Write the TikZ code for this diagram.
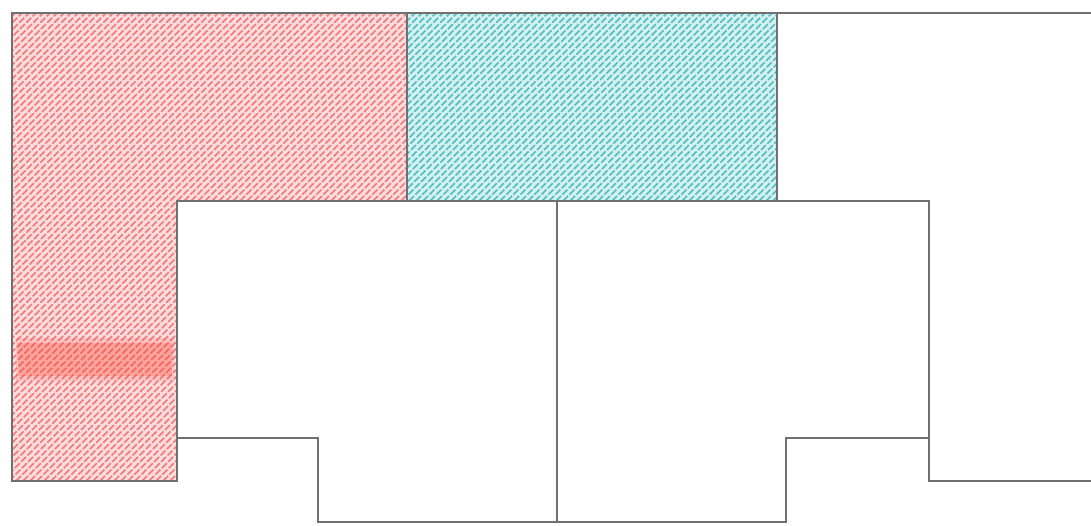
\documentclass[tikz,border=0pt]{standalone}
\definecolor{edge}{RGB}{112,112,112}
\definecolor{redbg}{RGB}{252,220,220}
\definecolor{redln}{RGB}{242,120,125}
\definecolor{tealbg}{RGB}{212,240,240}
\definecolor{tealln}{RGB}{80,190,190}
\definecolor{band}{RGB}{255,70,50}
\begin{document}
\begin{tikzpicture}[x=1pt,y=-1pt,
  wall/.style={draw=edge,line width=2pt,line join=miter},
  hatchred/.style={redln,line width=1.5pt,dash pattern=on 7pt off 2pt},
  hatchteal/.style={tealln,line width=1.5pt,dash pattern=on 7pt off 2pt}]
\useasboundingbox (0,0) rectangle (1091,525);
\fill[white] (0,0) rectangle (1091,525);
% red L-shaped zone
\begin{scope}
\clip (12,13)--(407,13)--(407,201)--(177,201)--(177,481)--(12,481)--cycle;
\fill[redbg] (0,0) rectangle (420,490);
\foreach \i in {0,7,...,960} \draw[hatchred] (\i-500,500)--(\i,0);
\fill[band,opacity=0.15] (16,338) rectangle (174,381);
\fill[band,opacity=0.25] (18,343) rectangle (172,376);
\end{scope}
% teal zone
\begin{scope}
\clip (407,13) rectangle (777,201);
\fill[tealbg] (400,0) rectangle (790,210);
\foreach \i in {400,407,...,1010} \draw[hatchteal] (\i-220,220)--(\i,0);
\end{scope}
% outline
\coordinate (tr) at (1091,13);
\coordinate (br) at (1091,481);
\draw[wall] (tr)--(12,13)--(12,481)--(177,481)--(177,438)--(318,438)--(318,522)
  --(786,522)--(786,438)--(929,438)--(929,481)--(br);
\draw[wall] (177,481)--(177,201)--(929,201)--(929,438);
\draw[wall] (407,13)--(407,201);
\draw[wall] (777,13)--(777,201);
\draw[wall] (557,201)--(557,522);
\end{tikzpicture}
\end{document}
